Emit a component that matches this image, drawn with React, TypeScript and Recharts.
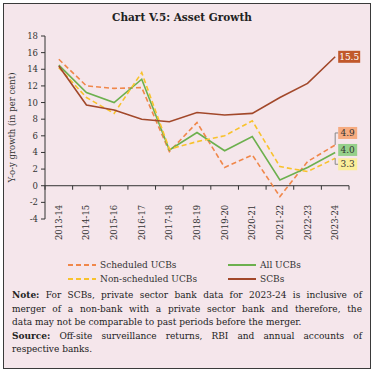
import { LineChart, Line, XAxis, YAxis, ReferenceLine } from "recharts";

const years = ["2013-14", "2014-15", "2015-16", "2016-17", "2017-18", "2018-19", "2019-20", "2020-21", "2021-22", "2022-23", "2023-24"];
const scheduledUCBs = [15.2, 12.0, 11.7, 11.8, 4.1, 7.6, 2.2, 3.7, -1.3, 2.9, 4.9];
const nonScheduledUCBs = [14.2, 10.6, 8.7, 13.6, 4.4, 5.3, 6.0, 7.8, 2.3, 1.7, 3.3];
const allUCBs = [14.5, 11.2, 10.0, 12.8, 4.3, 6.4, 4.2, 5.9, 0.7, 2.2, 4.0];
const scbs = [14.4, 9.7, 9.1, 8.0, 7.7, 8.8, 8.5, 8.7, 10.6, 12.3, 15.5];
const yTicks = [-4, -2, 0, 2, 4, 6, 8, 10, 12, 14, 16, 18];

const data = years.map((year, i) => ({
  year,
  scheduled: scheduledUCBs[i],
  nonScheduled: nonScheduledUCBs[i],
  all: allUCBs[i],
  scb: scbs[i],
}));

const FONT = "'DejaVu Serif', serif";
const W = 374;
const LEFT = 45;
const RIGHT = 25;
const TOP = 36;
const PLOT_H = 183;
const Y_MIN = -4;
const Y_MAX = 18;
const ZERO_Y = TOP + (PLOT_H * Y_MAX) / (Y_MAX - Y_MIN);
const LAST = years.length - 1;
const HALF_BAND = (W - LEFT - RIGHT) / years.length / 2;

const series = [
  { key: "scheduled", name: "Scheduled UCBs", color: "#f0874a", dash: "5 3", boxFill: "#f6ab80", boxText: "#333", dy: -12, row: 0, col: 0 },
  { key: "all", name: "All UCBs", color: "#6cb04e", dash: undefined, boxFill: "#96d08a", boxText: "#333", dy: -2.5, row: 0, col: 1 },
  { key: "nonScheduled", name: "Non-scheduled UCBs", color: "#f8c22c", dash: "5 3", boxFill: "#fbee9a", boxText: "#333", dy: 6, row: 1, col: 0 },
  { key: "scb", name: "SCBs", color: "#a2482a", dash: undefined, boxFill: "#c1582b", boxText: "#fff", dy: 0, row: 1, col: 1 },
];

function XTick(props: any) {
  const { x, payload, index } = props;
  return (
    <g>
      <line x1={x - HALF_BAND} x2={x - HALF_BAND} y1={ZERO_Y} y2={ZERO_Y + 4} stroke="#333" />
      {index === LAST && <line x1={x + HALF_BAND} x2={x + HALF_BAND} y1={ZERO_Y} y2={ZERO_Y + 4} stroke="#333" />}
      <text
        x={x + 3}
        y={ZERO_Y + 19}
        transform={`rotate(-90 ${x + 3} ${ZERO_Y + 19})`}
        textAnchor="end"
        fontSize={8.5}
        fontFamily={FONT}
        fill="#333"
      >
        {payload.value}
      </text>
    </g>
  );
}

function makeEndLabel(s: (typeof series)[number]) {
  return (props: any) => {
    const { x, y, value, index } = props;
    if (index !== LAST) return null;
    const text = value.toFixed(1);
    const w = s.key === "scb" ? 22 : 19;
    const cy = y + s.dy;
    const bx = x + 3;
    return (
      <g>
        {Math.abs(s.dy) > 4 && (
          <polyline points={`${x},${y} ${x},${cy} ${bx},${cy}`} fill="none" stroke="#888" strokeWidth={1} />
        )}
        <rect x={bx} y={cy - 6} width={w} height={12} fill={s.boxFill} />
        <text x={bx + w / 2} y={cy + 3.2} textAnchor="middle" fontSize={9} fontFamily={FONT} fill={s.boxText}>
          {text}
        </text>
      </g>
    );
  };
}

function Legend() {
  return (
    <div style={{ position: "absolute", top: 259, left: 0, width: W }}>
      {series.map((s) => (
        <div
          key={s.key}
          style={{
            position: "absolute",
            top: s.row * 14,
            left: s.col === 0 ? 68 : 228,
            display: "flex",
            alignItems: "center",
            fontFamily: FONT,
            fontSize: 9,
            color: "#333",
            whiteSpace: "nowrap",
          }}
        >
          <svg width={28} height={12} style={{ marginRight: 4 }}>
            <line x1={0} x2={28} y1={6} y2={6} stroke={s.color} strokeWidth={2} strokeDasharray={s.dash} />
          </svg>
          {s.name}
        </div>
      ))}
    </div>
  );
}

const noteLines = [
  { bold: "Note:", text: " For SCBs, private sector bank data for 2023-24 is inclusive of", full: true },
  { bold: "", text: "merger of a non-bank with a private sector bank and therefore, the", full: true },
  { bold: "", text: "data may not be comparable to past periods before the merger.", full: false },
  { bold: "Source:", text: " Off-site surveillance returns, RBI and annual accounts of", full: true },
  { bold: "", text: "respective banks.", full: false },
];

export default function App() {
  return (
    <div style={{ position: "relative", width: W, height: 373, background: "#fff", overflow: "hidden" }}>
      <style>{`body{margin:0}`}</style>
      <div
        style={{
          position: "absolute",
          left: 3,
          top: 3,
          width: 368,
          height: 366,
          boxSizing: "border-box",
          border: "1.5px solid #3a3a3a",
          background: "#f5e6eb",
        }}
      />
      <div
        style={{
          position: "absolute",
          top: 11,
          left: 0,
          width: 364,
          textAlign: "center",
          fontFamily: FONT,
          fontWeight: "bold",
          fontSize: 10.5,
          color: "#222",
        }}
      >
        Chart V.5: Asset Growth
      </div>
      <div style={{ position: "absolute", top: 0, left: 0 }}>
        <LineChart width={W} height={TOP + PLOT_H + 30} data={data} margin={{ top: TOP, right: RIGHT, left: 0, bottom: 0 }}>
          <XAxis
            dataKey="year"
            axisLine={false}
            tickLine={false}
            interval={0}
            height={30}
            padding={{ left: HALF_BAND, right: HALF_BAND }}
            tick={<XTick />}
          />
          <YAxis
            domain={[Y_MIN, Y_MAX]}
            ticks={yTicks}
            interval={0}
            width={LEFT}
            tickSize={4}
            tickMargin={3}
            stroke="#333"
            tick={{ fontSize: 8.5, fontFamily: FONT, fill: "#333" }}
            label={{
              value: "Y-o-y growth (in per cent)",
              angle: -90,
              position: "insideLeft",
              offset: 12,
              style: { textAnchor: "middle", fontSize: 8.5, fontFamily: FONT, fill: "#333" },
            }}
          />
          <ReferenceLine y={0} stroke="#333" />
          {series.map((s) => (
            <Line
              key={s.key}
              dataKey={s.key}
              name={s.name}
              stroke={s.color}
              strokeWidth={1.6}
              strokeDasharray={s.dash}
              dot={false}
              isAnimationActive={false}
              label={makeEndLabel(s)}
            />
          ))}
        </LineChart>
      </div>
      <Legend />
      <div
        style={{
          position: "absolute",
          top: 289,
          left: 12,
          width: 350,
          fontFamily: FONT,
          fontSize: 9,
          lineHeight: "13.6px",
          color: "#222",
        }}
      >
        {noteLines.map((l, i) => (
          <div
            key={i}
            style={{
              textAlign: l.full ? "justify" : "left",
              textAlignLast: l.full ? "justify" : "left",
              whiteSpace: "nowrap",
            }}
          >
            {l.bold && <b>{l.bold}</b>}
            {l.text}
          </div>
        ))}
      </div>
    </div>
  );
}
